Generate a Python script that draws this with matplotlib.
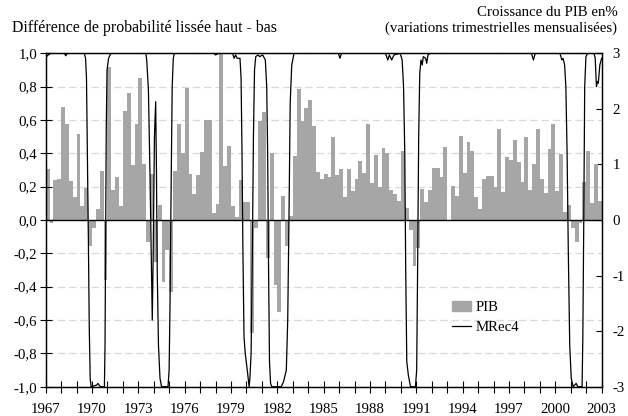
import numpy as np
import matplotlib.pyplot as plt
from matplotlib.ticker import MultipleLocator, FuncFormatter
from matplotlib.patches import Patch
from matplotlib.lines import Line2D

plt.rcParams['font.family'] = ['Liberation Serif', 'DejaVu Serif']
plt.rcParams['font.size'] = 10.7

# PIB : croissance trimestrielle mensualisee (%), 1967T1 -> 2002T4
pib = [0.92, -0.06, 0.72, 0.74, 2.03, 1.73, 0.70, 0.41, 1.55, 0.26,
       0.58, -0.46, -0.14, 0.20, 0.88, -1.08, 2.76, 0.54, 0.77, 0.26,
       1.96, 2.29, 0.99, 1.73, 2.56, 1.01, -0.39, 0.83, -0.76, 0.27,
       -1.11, -0.54, -1.29, 0.88, 1.73, 1.20, 2.38, 0.83, 0.47, 0.81,
       1.23, 1.80, 1.80, 0.12, 0.28, 3.02, 0.97, 1.34, 0.25, 0.05,
       0.72, 0.32, 0.32, -2.04, -0.15, 1.78, 1.95, -0.69, 1.20, -1.17,
       -1.65, 0.44, -0.46, 0.08, 1.15, 2.36, 1.79, 2.01, 2.16, 1.69,
       0.86, 0.74, 0.83, 0.77, 1.49, 0.81, 0.92, 0.42, 0.92, 0.53,
       0.74, 1.06, 0.85, 1.73, 0.67, 1.17, 0.60, 1.30, 1.20, 0.54,
       0.47, 0.35, 1.24, 0.21, -0.18, -0.82, -0.50, 0.56, 0.33, 0.54,
       0.94, 0.94, 0.78, 1.32, -0.02, 0.62, 0.44, 1.52, 0.85, 1.40,
       1.25, 0.42, 0.19, 0.73, 0.79, 0.79, 0.60, 1.64, 0.51, 1.13,
       1.08, 1.44, 1.04, 0.69, 1.49, 0.54, 1.01, 1.64, 0.74, 0.49,
       1.28, 1.73, 0.53, 1.19, 0.15, 0.27, -0.14, -0.40, -0.06, 0.69,
       1.24, 0.31, 1.00, 0.35]
quarters = 1967 + np.arange(len(pib)) / 4

# MRec4 : difference de probabilite lissee haut - bas
mrec_t = [1967.00, 1967.10, 1967.30, 1968.20, 1968.30, 1968.40, 1969.50, 1969.58,
          1969.64, 1969.70, 1969.76, 1969.82, 1969.88, 1969.94, 1970.30, 1970.38,
          1970.45, 1970.55, 1970.80, 1970.84, 1970.88, 1970.92, 1970.97, 1971.07,
          1971.22, 1973.48, 1973.54, 1973.65, 1973.75, 1973.85, 1973.90, 1973.96,
          1974.04, 1974.12, 1974.17, 1974.22, 1974.30, 1974.40, 1974.50, 1974.92,
          1974.99, 1975.05, 1975.12, 1975.19, 1975.26, 1975.33, 1977.90, 1978.00,
          1978.20, 1979.10, 1979.20, 1979.30, 1979.40, 1979.58, 1979.65, 1979.71,
          1979.77, 1979.84, 1979.92, 1980.05, 1980.17, 1980.22, 1980.30, 1980.38,
          1980.45, 1980.52, 1980.60, 1980.75, 1980.85, 1981.05, 1981.22, 1981.31,
          1981.37, 1981.43, 1981.49, 1981.56, 1981.64, 1982.25, 1982.40, 1982.58,
          1982.67, 1982.75, 1982.83, 1982.93, 1983.08, 1985.95, 1986.05, 1986.15,
          1989.00, 1989.15, 1989.25, 1989.40, 1989.55, 1989.95, 1990.08, 1990.17,
          1990.25, 1990.31, 1990.38, 1990.48, 1990.62, 1990.94, 1991.02, 1991.08,
          1991.15, 1991.22, 1991.30, 1991.38, 1991.45, 1991.60, 1991.67, 1991.75,
          1991.90, 1998.45, 1998.58, 1998.70, 2000.30, 2000.42, 2000.50, 2000.60,
          2000.68, 2000.76, 2000.84, 2000.93, 2001.03, 2001.15, 2001.35, 2001.45,
          2001.73, 2001.78, 2001.84, 2001.90, 2001.98, 2002.10, 2002.50, 2002.58,
          2002.66, 2002.72, 2002.78, 2002.88, 2003.00]
mrec_v = [0.97, 0.985, 1.0, 1.0, 0.985, 1.0, 1.0, 0.97,
          0.85, 0.4, -0.1, -0.65, -0.95, -1.0, -0.99, -0.98,
          -0.99, -1.0, -1.0, -0.75, -0.1, 0.55, 0.9, 0.97,
          1.0, 1.0, 0.96, 0.78, 0.28, -0.3, -0.6, -0.2,
          0.5, 0.71, 0.3, -0.3, -0.75, -0.95, -1.0, -1.0,
          -0.9, -0.5, 0.2, 0.8, 0.97, 1.0, 1.0, 0.99,
          1.0, 1.0, 0.97, 0.99, 0.97, 0.97, 0.85, 0.4,
          -0.2, -0.7, -0.8, -0.9, -1.0, -0.95, -0.8, -0.2,
          0.5, 0.9, 0.98, 0.99, 0.98, 0.99, 0.96, 0.8,
          0.4, -0.3, -0.85, -0.98, -1.0, -1.0, -0.97, -0.9,
          -0.6, 0.0, 0.7, 0.93, 1.0, 1.0, 0.97, 1.0,
          1.0, 0.96, 0.99, 0.96, 0.99, 1.0, 0.96, 0.8,
          0.4, -0.3, -0.85, -0.93, -1.0, -1.0, -0.9, -0.3,
          0.5, 0.88, 0.96, 0.93, 0.98, 0.97, 0.94, 0.99,
          1.0, 1.0, 0.96, 1.0, 1.0, 0.96, 0.97, 0.93,
          0.8, 0.4, -0.2, -0.75, -0.95, -1.0, -0.98, -1.0,
          -1.0, -0.7, 0.0, 0.8, 0.98, 1.0, 1.0, 0.97,
          0.8, 0.83, 0.82, 0.93, 0.97]

left_ticks = np.round(np.arange(-1.0, 1.01, 0.2), 1)
right_ticks = [-3, -2, -1, 0, 1, 2, 3]
year_labels = list(range(1967, 2004, 3))


def fr_fmt(v, p):
    if abs(v) < 1e-9:
        v = 0.0
    return ('%.1f' % v).replace('.', ',')


fig = plt.figure(figsize=(6.28, 4.16), dpi=100)
ax = fig.add_axes([0.0728, 0.0704, 0.8853, 0.8015])   # bars, right scale
ax2 = ax.twinx()                                        # line, left scale

ax.bar(quarters, pib, width=0.25, align='edge', color='#a6a6a6', zorder=2)
ax.set_ylim(-3, 3)
ax.set_xlim(1967, 2003)
for v in left_ticks:
    if v != 0:
        ax.axhline(v * 3, color='#d9d9d9', lw=0.9, ls=(0, (6, 3)), zorder=1)
ax.axhline(0, color='black', lw=1.0, zorder=3)

ax2.plot(mrec_t, mrec_v, color='black', lw=0.9)
ax2.set_ylim(-1, 1)

# right axis (PIB)
ax.yaxis.tick_right()
ax.set_yticks(right_ticks)
ax.yaxis.set_major_formatter(FuncFormatter(lambda v, p: '%d' % v))
ax.tick_params(axis='y', direction='in', length=4, width=0.8, pad=8,
               left=False, right=True, labelleft=False, labelright=True)

# left axis (MRec4)
ax2.yaxis.tick_left()
ax2.set_yticks(left_ticks)
ax2.yaxis.set_major_formatter(FuncFormatter(fr_fmt))
ax2.tick_params(axis='y', direction='inout', length=8, width=0.8, pad=2,
                left=True, right=False, labelleft=True, labelright=False)

ax.set_xticks(year_labels)
ax.xaxis.set_minor_locator(MultipleLocator(1))
ax.tick_params(axis='x', which='both', direction='inout', length=8, width=0.8, pad=8)

for a in (ax, ax2):
    for s in a.spines.values():
        s.set_color('black')
        s.set_linewidth(0.9)

fig.text(0.019, 0.933, 'Différence de probabilité lissée haut - bas', ha='left', va='center',
         fontsize=11.4)
fig.text(0.983, 0.971, 'Croissance du PIB en%', ha='right', va='center')
fig.text(0.983, 0.933, '(variations trimestrielles mensualisées)', ha='right', va='center')

handles = [Patch(color='#a6a6a6', label='PIB'), Line2D([], [], color='black', lw=0.9, label='MRec4')]
ax2.legend(handles=handles, loc='upper left', bbox_to_anchor=(0.72, 0.275), frameon=False,
           handlelength=1.3, handletextpad=0.3, labelspacing=0.45, borderaxespad=0)

fig.savefig('out.png', dpi=100)
